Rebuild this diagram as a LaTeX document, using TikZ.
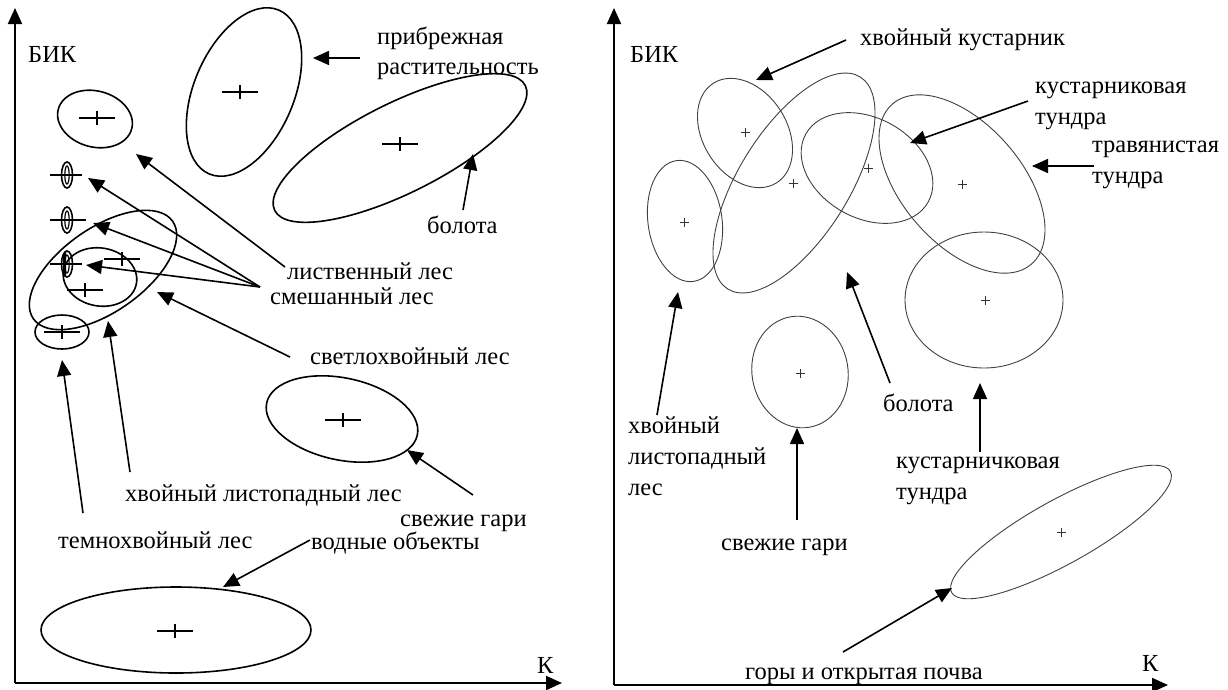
\documentclass[tikz,border=0pt]{standalone}
\usepackage{fontspec}
\setmainfont{Liberation Serif}
\usetikzlibrary{arrows.meta}
\tikzset{
  lbl/.style={anchor=base west, inner sep=0pt, font=\fontsize{24.5}{30}\selectfont},
  axisline/.style={line width=2pt, -{Triangle[length=16pt,width=14pt]}},
  ptr/.style={line width=1.6pt, -{Triangle[length=16pt,width=14pt]}},
  lell/.style={line width=1.6pt, black},
  rell/.style={line width=0.9pt, black!75},
  lxline/.style={line width=1.1pt},
  rxline/.style={line width=0.7pt, black!80},
  lcross/.pic={\draw[lxline] (-18,0)--(18,0) (0,-7)--(0,7);},
  rcross/.pic={\draw[rxline] (-4.5,0)--(4.5,0) (0,-4.5)--(0,4.5);}
}
\begin{document}
\begin{tikzpicture}[x=1pt,y=-1pt]
\useasboundingbox (0,0) rectangle (1228,689);

% ================= LEFT PANEL =================
\coordinate (LO) at (15,683);
\coordinate (LY) at (15,8);
\coordinate (LX) at (562,683);
\draw[axisline] (LO) -- (LY);
\draw[axisline] (LO) -- (LX);
\node[lbl] (lbik) at (28,62) {БИК};
\node[lbl] (lk) at (537,673) {К};

% ellipses
\draw[lell, rotate around={-23:(244,92)}] (244,92) ellipse [x radius=50, y radius=89];
\draw[lell, rotate around={26.5:(400,148)}] (400,148) ellipse [x radius=140, y radius=45];
\draw[lell, rotate around={-15:(95,119)}] (95,119) ellipse [x radius=38, y radius=28];
\foreach \yy in {175,220,264}{
  \draw[lell] (67,\yy) ellipse [x radius=5.5, y radius=13];
  \draw[line width=1.2pt] (67,\yy) ellipse [x radius=2.2, y radius=9];
}
\fill (63,254) -- (66,252) -- (66,276) -- (63,274) -- cycle;
\draw[lxline] (50,175) -- (82,175);
\draw[lxline] (50,220) -- (86,220);
\draw[lxline] (50,264) -- (82,264);
\draw[lell, rotate around={35:(103,270)}] (103,270) ellipse [x radius=85, y radius=42];
\draw[lell, rotate around={-10:(100,277)}] (100,277) ellipse [x radius=37, y radius=29];
\draw[lell] (62,332) ellipse [x radius=27, y radius=17];
\draw[lell, rotate around={-12:(342,419)}] (342,419) ellipse [x radius=77, y radius=41];
\draw[lell] (176,630) ellipse [x radius=135, y radius=43];

% crosses
\foreach \p in {(240,92),(400,144),(97,118),(122,259),(85,290),(62,332),(343,420),(175,631)}
  \pic at \p {lcross};

% labels
\node[lbl] (lpr1) at (377,44) {прибрежная};
\node[lbl] (lpr2) at (377,74) {растительность};
\node[lbl] (lbol) at (427,233) {болота};
\node[lbl] (llis) at (287,279) {лиственный лес};
\node[lbl] (lsme) at (270,304) {смешанный лес};
\node[lbl] (lsve) at (310,364) {светлохвойный лес};
\node[lbl] (lhvl) at (125,501) {хвойный листопадный лес};
\node[lbl] (lgar) at (400,526) {свежие гари};
\node[lbl] (ltem) at (58,548) {темнохвойный лес};
\node[lbl] (lvod) at (311,549) {водные объекты};

% arrows
\coordinate (a1s) at (360,58);  \coordinate (a1e) at (313,58);
\coordinate (a2s) at (463,210); \coordinate (a2e) at (473,154);
\coordinate (a3s) at (285,267); \coordinate (a3e) at (136,154);
\coordinate (a4s) at (260,287);
\coordinate (a4e) at (88,178); \coordinate (a5e) at (93,223); \coordinate (a6e) at (86,265);
\coordinate (a7s) at (290,357); \coordinate (a7e) at (157,292);
\coordinate (a8s) at (130,472); \coordinate (a8e) at (108,321);
\coordinate (a9s) at (83,513);  \coordinate (a9e) at (62,360);
\coordinate (a10s) at (473,495); \coordinate (a10e) at (407,450);
\coordinate (a11s) at (310,540); \coordinate (a11e) at (223,587);
\draw[ptr] (a1s) -- (a1e);
\draw[ptr] (a2s) -- (a2e);
\draw[ptr] (a3s) -- (a3e);
\draw[ptr] (a4s) -- (a4e);
\draw[ptr] (a4s) -- (a5e);
\draw[ptr] (a4s) -- (a6e);
\draw[ptr] (a7s) -- (a7e);
\draw[ptr] (a8s) -- (a8e);
\draw[ptr] (a9s) -- (a9e);
\draw[ptr] (a10s) -- (a10e);
\draw[ptr] (a11s) -- (a11e);

% ================= RIGHT PANEL =================
\coordinate (RO) at (614,685);
\coordinate (RY) at (614,8);
\coordinate (RX) at (1168,685);
\draw[axisline] (RO) -- (RY);
\draw[axisline] (RO) -- (RX);
\node[lbl] (rbik) at (630,62) {БИК};
\node[lbl] (rk) at (1142,671) {К};

\draw[rell, rotate around={32.5:(745,133)}] (745,133) ellipse [x radius=42, y radius=59];
\draw[rell, rotate around={-32:(794,183)}] (794,183) ellipse [x radius=55, y radius=125];
\draw[rell, rotate around={-29:(867,168)}] (867,168) ellipse [x radius=70, y radius=50];
\draw[rell, rotate around={-49:(962,184)}] (962,184) ellipse [x radius=106, y radius=60];
\draw[rell] (984,300) ellipse [x radius=79, y radius=68];
\draw[rell, rotate around={8:(685,221)}] (685,221) ellipse [x radius=37, y radius=61];
\draw[rell, rotate around={10:(800,372)}] (800,372) ellipse [x radius=48, y radius=56];
\draw[rell, rotate around={29:(1061,532)}] (1061,532) ellipse [x radius=125, y radius=32];

\foreach \p in {(745,132),(793,183),(868,168),(962,184),(985,300),(684,222),(800,373),(1061,532)}
  \pic at \p {rcross};

\node[lbl] (rhk) at (860,45) {хвойный кустарник};
\node[lbl] (rkt1) at (1035,93) {кустарниковая};
\node[lbl] (rkt2) at (1035,124) {тундра};
\node[lbl] (rtt1) at (1092,152) {травянистая};
\node[lbl] (rtt2) at (1092,183) {тундра};
\node[lbl] (rhl1) at (628,433) {хвойный};
\node[lbl] (rhl2) at (628,464) {листопадный};
\node[lbl] (rhl3) at (628,495) {лес};
\node[lbl] (rgar) at (721,550) {свежие гари};
\node[lbl] (rbol) at (883,411) {болота};
\node[lbl] (rkc1) at (896,468) {кустарничковая};
\node[lbl] (rkc2) at (896,499) {тундра};
\node[lbl] (rgor) at (745,679) {горы и открытая почва};

\coordinate (b1s) at (846,40);   \coordinate (b1e) at (756,80);
\coordinate (b2s) at (1028,101); \coordinate (b2e) at (910,143);
\coordinate (b3s) at (1094,166); \coordinate (b3e) at (1032,166);
\coordinate (b4s) at (657,415);  \coordinate (b4e) at (678,292);
\coordinate (b5s) at (890,383);  \coordinate (b5e) at (847,272);
\coordinate (b6s) at (797,520);  \coordinate (b6e) at (797,428);
\coordinate (b7s) at (980,452);  \coordinate (b7e) at (980,383);
\coordinate (b8s) at (843,652);  \coordinate (b8e) at (952,588);
\foreach \i in {1,...,8} \draw[ptr] (b\i s) -- (b\i e);
\end{tikzpicture}
\end{document}
